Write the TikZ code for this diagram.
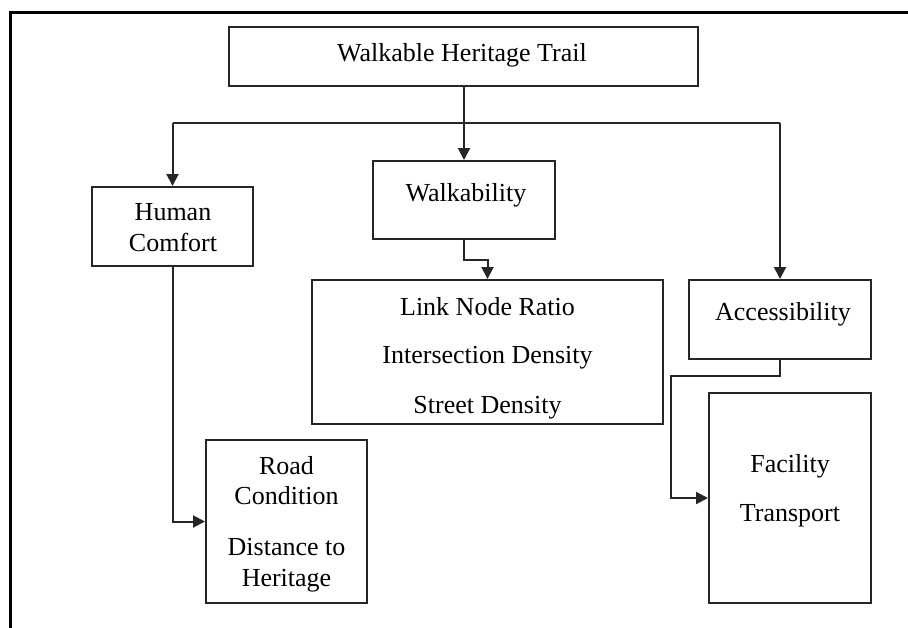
\documentclass[tikz,border=0pt]{standalone}
\usepackage{fontspec}
\setmainfont{Liberation Serif}
\usetikzlibrary{arrows.meta}
\begin{document}
\begin{tikzpicture}[x=0.5pt,y=-0.5pt,
  box/.style={draw=black!85,line width=1pt,rectangle,inner sep=0pt},
  txt/.style={anchor=base,inner sep=0pt,font=\fontsize{13pt}{15.5pt}\selectfont},
  conn/.style={draw=black!85,line width=1pt},
  arr/.style={conn,-{Triangle[length=6pt,width=6pt]}}]
\useasboundingbox (0,0) rectangle (908,627);
\draw[line width=1.5pt] (10.5,640) -- (10.5,12.5) -- (920,12.5);
% boxes
\node[box,minimum width=234.5pt,minimum height=29.5pt] (top) at (463.5,56.5) {};
\node[box,minimum width=80.5pt,minimum height=39.5pt] (hc) at (172.5,226.5) {};
\node[box,minimum width=91pt,minimum height=39pt] (wk) at (464,200) {};
\node[box,minimum width=175.5pt,minimum height=72pt] (link) at (487.5,352) {};
\node[box,minimum width=91pt,minimum height=39.5pt] (acc) at (780,319.5) {};
\node[box,minimum width=81pt,minimum height=105pt] (fac) at (790,498) {};
\node[box,minimum width=80.5pt,minimum height=81.5pt] (road) at (286.5,521.5) {};
% texts
\node[txt] (t1) at (462,61) {Walkable Heritage Trail};
\node[txt] (t2) at (466,201) {Walkability};
\node[txt] (t3) at (173,220) {Human};
\node[txt] (t4) at (173,251.5) {Comfort};
\node[txt] (t5) at (487.5,315) {Link Node Ratio};
\node[txt] (t6) at (487.5,363) {Intersection Density};
\node[txt] (t7) at (487.5,413) {Street Density};
\node[txt] (t8) at (783,320.5) {Accessibility};
\node[txt] (t9) at (286.5,474) {Road};
\node[txt] (t10) at (286.5,504) {Condition};
\node[txt] (t11) at (286.5,555) {Distance to};
\node[txt] (t12) at (286.5,586) {Heritage};
\node[txt] (t13) at (790,472.5) {Facility};
\node[txt] (t14) at (790,521.5) {Transport};
% connectors
\coordinate (b1) at (172.5,123);
\coordinate (b2) at (780,123);
\coordinate (j1) at (487.5,260);
\coordinate (j2) at (671,376);
\draw[arr] (wk.north |- top.south) -- (wk.north);
\draw[conn] (b1) -- (b2);
\draw[arr] (b1) -- (hc.north);
\draw[arr] (b2) -- (acc.north);
\draw[arr] (wk.south) |- (j1) -- (link.north);
\draw[arr] (hc.south) |- (road.west);
\draw[arr] (acc.south) |- (j2) |- (fac.west);
\end{tikzpicture}
\end{document}
